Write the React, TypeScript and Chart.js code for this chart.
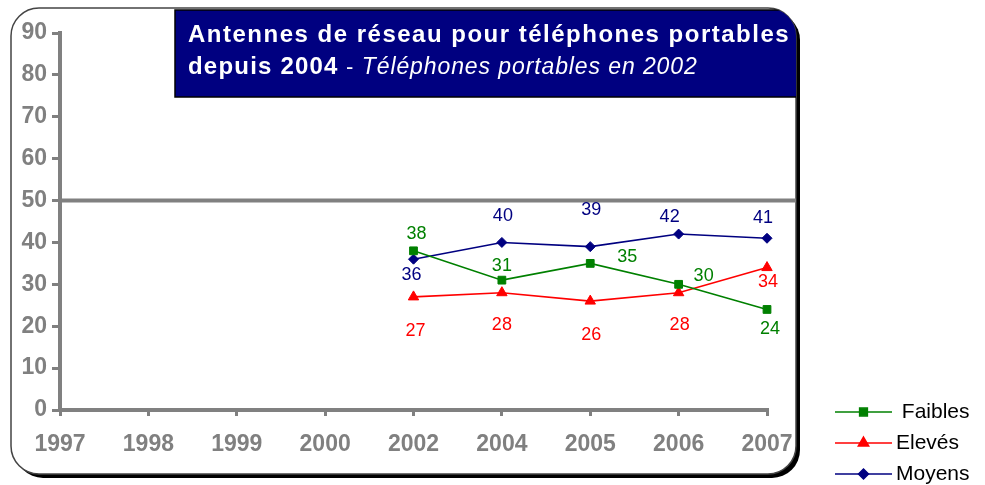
import React, { useEffect, useRef } from 'react';
import { Chart, registerables } from 'chart.js';
import { drawPoint } from 'chart.js/helpers';

Chart.register(...registerables);

// ---------- data ----------
const YEARS = ['1997', '1998', '1999', '2000', '2002', '2004', '2005', '2006', '2007'];
const FAIBLES = [null, null, null, null, 38, 31, 35, 30, 24];
const ELEVES = [null, null, null, null, 27, 28, 26, 28, 34];
const MOYENS = [null, null, null, null, 36, 40, 39, 42, 41];
const SERIES_NAMES = [' Faibles', 'Elevés', 'Moyens'];
const Y_MIN = 0;
const Y_MAX = 90;
const Y_STEP = 10;
const REFERENCE_VALUE = 50;
const TITLE_LINE1 = 'Antennes de réseau pour téléphones portables';
const TITLE_LINE2_BOLD = 'depuis 2004';
const TITLE_LINE2_SEP = ' - ';
const TITLE_LINE2_ITALIC = 'Téléphones portables en 2002';

// value-label nudges (dx, dy in px relative to the point)
const FAIBLES_NUDGE = [null, null, null, null, [3, -17], [0, -14], [37, -6], [25, -8], [3, 20]];
const ELEVES_NUDGE = [null, null, null, null, [2, 34], [0, 32], [1, 34], [1, 32], [1, 14]];
const MOYENS_NUDGE = [null, null, null, null, [-2, 16], [1, -26], [1, -37], [-9, -17], [-4, -20]];

// ---------- styles ----------
const FONT = "'Liberation Sans', Arial, sans-serif";
const GREY = '#808080';
const GREEN = '#008000';
const RED = '#ff0000';
const NAVY = '#000080';
const FRAME = { x: 11, y: 8, w: 785, h: 466, r: 28 };
const TITLE_BOX = { x: 175, y: 10, w: 625, h: 87 };

function roundRect(ctx: CanvasRenderingContext2D, x: number, y: number, w: number, h: number, r: number) {
  ctx.beginPath();
  ctx.moveTo(x + r, y);
  ctx.lineTo(x + w - r, y);
  ctx.arcTo(x + w, y, x + w, y + r, r);
  ctx.lineTo(x + w, y + h - r);
  ctx.arcTo(x + w, y + h, x + w - r, y + h, r);
  ctx.lineTo(x + r, y + h);
  ctx.arcTo(x, y + h, x, y + h - r, r);
  ctx.lineTo(x, y + r);
  ctx.arcTo(x, y, x + r, y, r);
  ctx.closePath();
}

const framePlugin = {
  id: 'framePlugin',
  beforeDraw(chart: any) {
    const ctx: CanvasRenderingContext2D = chart.ctx;
    ctx.save();
    ctx.fillStyle = '#ffffff';
    ctx.fillRect(0, 0, chart.width, chart.height);
    // shadow
    ctx.fillStyle = '#000000';
    roundRect(ctx, FRAME.x + 4, FRAME.y + 4, FRAME.w, FRAME.h, FRAME.r);
    ctx.fill();
    // frame
    ctx.fillStyle = '#ffffff';
    roundRect(ctx, FRAME.x, FRAME.y, FRAME.w, FRAME.h, FRAME.r);
    ctx.fill();
    ctx.lineWidth = 1.5;
    ctx.strokeStyle = '#444444';
    ctx.stroke();
    // title box
    ctx.save();
    roundRect(ctx, FRAME.x, FRAME.y, FRAME.w, FRAME.h, FRAME.r);
    ctx.clip();
    ctx.fillStyle = NAVY;
    ctx.fillRect(TITLE_BOX.x, TITLE_BOX.y, TITLE_BOX.w, TITLE_BOX.h);
    ctx.strokeStyle = '#000000';
    ctx.lineWidth = 1.5;
    ctx.strokeRect(TITLE_BOX.x, TITLE_BOX.y, TITLE_BOX.w, TITLE_BOX.h);
    ctx.restore();
    // title text
    ctx.fillStyle = '#ffffff';
    ctx.textBaseline = 'alphabetic';
    ctx.textAlign = 'left';
    (ctx as any).letterSpacing = '1.5px';
    ctx.font = `bold 24px ${FONT}`;
    const tx = TITLE_BOX.x + 13;
    ctx.fillText(TITLE_LINE1, tx, 42);
    let x = tx;
    (ctx as any).letterSpacing = '1.2px';
    ctx.fillText(TITLE_LINE2_BOLD, x, 74);
    x += ctx.measureText(TITLE_LINE2_BOLD).width;
    ctx.font = `22px ${FONT}`;
    ctx.fillText(TITLE_LINE2_SEP, x, 74);
    x += ctx.measureText(TITLE_LINE2_SEP).width;
    (ctx as any).letterSpacing = '0.9px';
    ctx.font = `italic 23px ${FONT}`;
    ctx.fillText(TITLE_LINE2_ITALIC, x, 74);
    (ctx as any).letterSpacing = '0px';
    ctx.restore();
  },
  beforeDatasetsDraw(chart: any) {
    const ctx: CanvasRenderingContext2D = chart.ctx;
    const y = chart.scales.y.getPixelForValue(REFERENCE_VALUE);
    ctx.save();
    ctx.strokeStyle = GREY;
    ctx.lineWidth = 4;
    ctx.beginPath();
    ctx.moveTo(chart.chartArea.left, y);
    ctx.lineTo(FRAME.x + FRAME.w, y);
    ctx.stroke();
    ctx.restore();
  },
  afterDatasetsDraw(chart: any) {
    const ctx: CanvasRenderingContext2D = chart.ctx;
    ctx.save();
    ctx.font = `18px ${FONT}`;
    ctx.textAlign = 'center';
    ctx.textBaseline = 'middle';
    chart.data.datasets.forEach((ds: any, i: number) => {
      const meta = chart.getDatasetMeta(i);
      ctx.fillStyle = ds.borderColor;
      meta.data.forEach((pt: any, j: number) => {
        const v = ds.data[j];
        if (v === null || v === undefined) return;
        const n = ds.nudge[j] || [0, -14];
        ctx.fillText(String(v), pt.x + n[0], pt.y + n[1]);
      });
    });
    ctx.restore();
  },
  afterDraw(chart: any) {
    const ctx: CanvasRenderingContext2D = chart.ctx;
    ctx.save();
    ctx.font = `21px ${FONT}`;
    ctx.textAlign = 'left';
    ctx.textBaseline = 'middle';
    const x0 = 835;
    const x1 = 892;
    chart.data.datasets.forEach((ds: any, i: number) => {
      const y = 412 + i * 31;
      ctx.strokeStyle = ds.borderColor;
      ctx.fillStyle = ds.borderColor;
      ctx.lineWidth = 1.5;
      ctx.beginPath();
      ctx.moveTo(x0, y);
      ctx.lineTo(x1, y);
      ctx.stroke();
      drawPoint(ctx, { pointStyle: ds.pointStyle, radius: ds.pointRadius, rotation: 0, borderWidth: 1 } as any, (x0 + x1) / 2, y);
      ctx.fillStyle = '#000000';
      ctx.fillText(ds.label, x1 + 4, y);
    });
    ctx.restore();
  },
};

export default function App() {
  const ref = useRef<HTMLCanvasElement | null>(null);
  useEffect(() => {
    if (!ref.current) return;
    const mk = (label: string, data: any[], color: string, style: string, radius: number, nudge: any[]) => ({
      label,
      data,
      borderColor: color,
      backgroundColor: color,
      pointBackgroundColor: color,
      pointBorderColor: color,
      pointStyle: style,
      pointRadius: radius,
      pointBorderWidth: 1,
      borderWidth: 1.6,
      tension: 0,
      nudge,
    });
    const chart = new Chart(ref.current, {
      type: 'line',
      data: {
        labels: YEARS,
        datasets: [
          mk(SERIES_NAMES[0], FAIBLES, GREEN, 'rect', 5.5, FAIBLES_NUDGE),
          mk(SERIES_NAMES[1], ELEVES, RED, 'triangle', 6, ELEVES_NUDGE),
          mk(SERIES_NAMES[2], MOYENS, NAVY, 'rectRot', 5, MOYENS_NUDGE),
        ] as any,
      },
      options: {
        responsive: false,
        animation: false,
        layout: { padding: { left: 10, top: 33, right: 218, bottom: 30 } },
        plugins: {
          legend: { display: false },
          title: { display: false },
          tooltip: { enabled: false },
        },
        scales: {
          x: {
            type: 'category',
            offset: false,
            grid: { display: true, drawOnChartArea: false, drawTicks: true, tickLength: 6, color: GREY, lineWidth: 3 },
            border: { display: true, color: GREY, width: 4 },
            ticks: { color: GREY, font: { family: FONT, size: 23, weight: 'bold' }, padding: 15, maxRotation: 0, autoSkip: false },
            afterFit: (s: any) => { s.height = 45; },
          },
          y: {
            min: Y_MIN,
            max: Y_MAX,
            ticks: { stepSize: Y_STEP, color: GREY, font: { family: FONT, size: 23, weight: 'bold' }, padding: 5 },
            grid: { display: true, drawOnChartArea: false, drawTicks: true, tickLength: 8, color: GREY, lineWidth: 3 },
            border: { display: true, color: GREY, width: 4 },
            afterFit: (s: any) => { s.width = 50; },
          },
        },
      } as any,
      plugins: [framePlugin],
    });
    return () => chart.destroy();
  }, []);
  return (
    <div style={{ position: 'absolute', left: 0, top: 0, width: 985, height: 485 }}>
      <canvas ref={ref} width={985} height={485} />
    </div>
  );
}
